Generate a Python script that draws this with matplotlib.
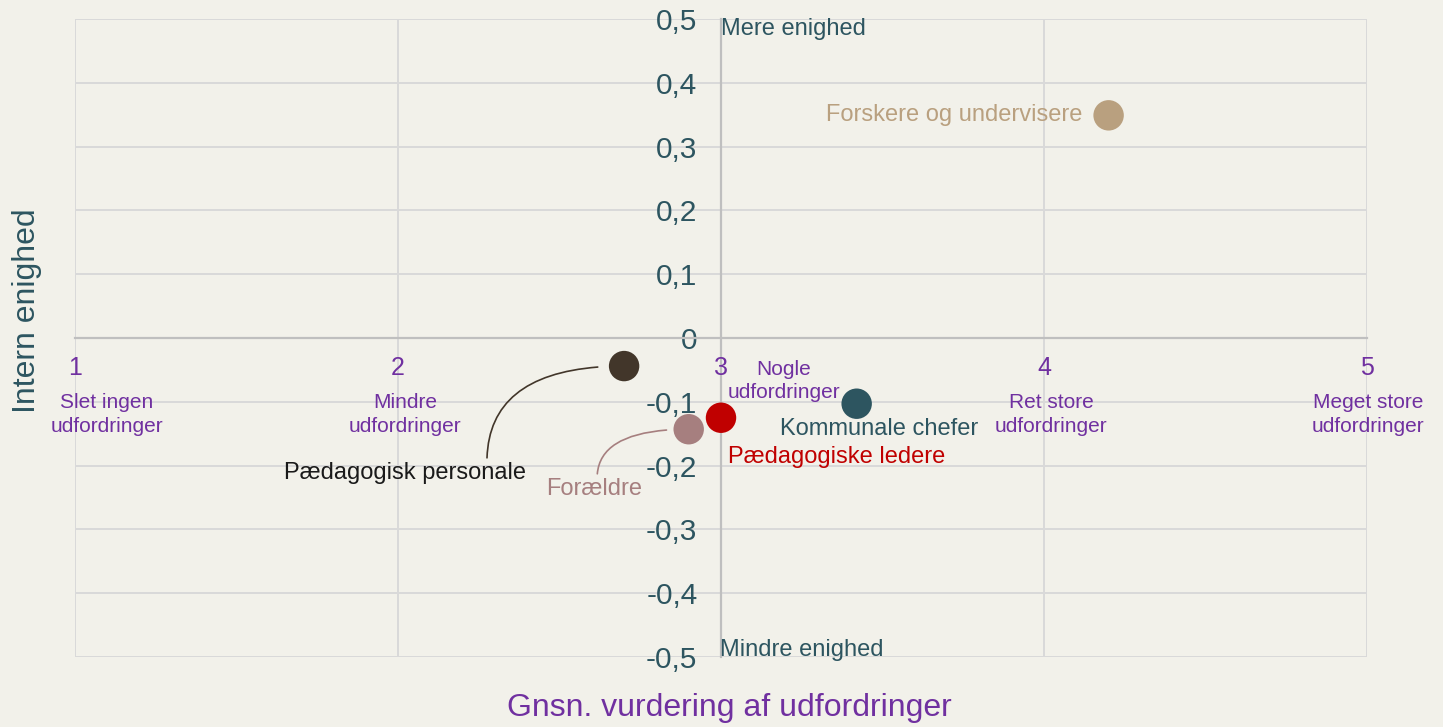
import numpy as np
import matplotlib
matplotlib.use("Agg")
import matplotlib.pyplot as plt
from matplotlib.ticker import FuncFormatter

plt.rcParams["font.family"] = ["Liberation Sans", "DejaVu Sans"]

# ---- data ----
groups = ["Pædagogisk personale", "Forældre", "Pædagogiske ledere",
          "Kommunale chefer", "Forskere og undervisere"]
challenge = [2.70, 2.90, 3.00, 3.42, 4.20]      # gnsn. vurdering af udfordringer
consensus = [-0.044, -0.143, -0.125, -0.103, 0.349]  # intern enighed
x_ticks = [1, 2, 3, 4, 5]
x_desc = ["Slet ingen\nudfordringer", "Mindre\nudfordringer", "Nogle\nudfordringer",
          "Ret store\nudfordringer", "Meget store\nudfordringer"]
y_ticks = [-0.5, -0.4, -0.3, -0.2, -0.1, 0, 0.1, 0.2, 0.3, 0.4, 0.5]

# ---- styling ----
BG = "#f2f1ea"
TEAL = "#2d5560"
PURPLE = "#7030a0"
GRID = "#d9d9d9"
AXIS = "#bfbfbf"
dot_c = ["#42362a", "#a67f7f", "#c00000", "#2d5560", "#b9a07f"]
txt_c = ["#1a1a1a", "#a67f7f", "#c00000", "#2d5560", "#b9a07f"]
# label offsets (points) relative to each dot, alignment, connector
lab = [dict(off=(-158, -77), ha="center", arrow=dict(relpos=(0.84, 1.0), shrinkB=19)),
       dict(off=(-68, -43), ha="center", arrow=dict(relpos=(0.53, 1.0), shrinkB=16)),
       dict(off=(5, -28), ha="left", arrow=None),
       dict(off=(16, -18), ha="center", arrow=None),
       dict(off=(-19, 0), ha="right", arrow=None)]
desc_off = [(23, -55), (5, -55), (45, -31), (5, -55), (1, -55)]

fig = plt.figure(figsize=(14.43, 7.27), dpi=100, facecolor=BG)
ax = fig.add_axes([75 / 1443, 1 - 657 / 727, 1292 / 1443, 638 / 727])
ax.set_facecolor(BG)
ax.set_xlim(1, 5)
ax.set_ylim(-0.5, 0.5)
ax.set_xticks(x_ticks)
ax.set_yticks(y_ticks)
ax.set_axisbelow(True)
ax.grid(True, color=GRID, lw=1.4)
for gl in ax.get_xgridlines() + ax.get_ygridlines():
    gl.set_clip_on(False)

ax.spines[["top", "right"]].set_visible(False)
ax.spines["left"].set_position(("data", 3))
ax.spines["bottom"].set_position(("data", 0))
for s in ("left", "bottom"):
    ax.spines[s].set_color(AXIS)
    ax.spines[s].set_linewidth(1.6)

ax.yaxis.set_major_formatter(FuncFormatter(
    lambda v, p: "0" if abs(v) < 1e-9 else f"{v:.1f}".replace(".", ",")))
ax.tick_params(axis="y", length=0, pad=17, labelsize=21.5, labelcolor=TEAL)
ax.tick_params(axis="x", length=0, labelbottom=False)

# x-axis category labels
for xv, d, off in zip(x_ticks, x_desc, desc_off):
    ax.annotate(str(xv), xy=(xv, 0), xytext=(0, -21.5), textcoords="offset points",
                ha="center", va="center", fontsize=18, color=PURPLE, annotation_clip=False)
    ax.annotate(d, xy=(xv, 0), xytext=off, textcoords="offset points",
                ha="center", va="center", fontsize=15, color=PURPLE,
                linespacing=1.3, annotation_clip=False)

ax.annotate("Mere enighed", xy=(3, 0.5), xytext=(0, -7), textcoords="offset points",
            ha="left", va="center", fontsize=17, color=TEAL)
ax.annotate("Mindre enighed", xy=(3, -0.5), xytext=(-1, 5), textcoords="offset points",
            ha="left", va="center", fontsize=17, color=TEAL)

# points + labels
ax.scatter(challenge, consensus, s=480, c=dot_c, zorder=5, clip_on=False, linewidths=0)
for g, xv, yv, c, tc, L in zip(groups, challenge, consensus, dot_c, txt_c, lab):
    kw = {}
    if L["arrow"] is not None:
        kw["arrowprops"] = dict(arrowstyle="-", color=c, lw=1.2, shrinkA=1,
                                connectionstyle="angle3,angleA=90,angleB=0", **L["arrow"])
    ax.annotate(g, xy=(xv, yv), xytext=L["off"], textcoords="offset points",
                ha=L["ha"], va="center", fontsize=17, color=tc, zorder=6, **kw)

fig.text(27 / 1443, 1 - 311 / 727, "Intern enighed", rotation=90, ha="center", va="center",
         fontsize=23, color=TEAL)
fig.text(729 / 1443, 1 - 708 / 727, "Gnsn. vurdering af udfordringer", ha="center", va="center",
         fontsize=23, color=PURPLE)

fig.savefig("out.png", dpi=100, facecolor=BG)
